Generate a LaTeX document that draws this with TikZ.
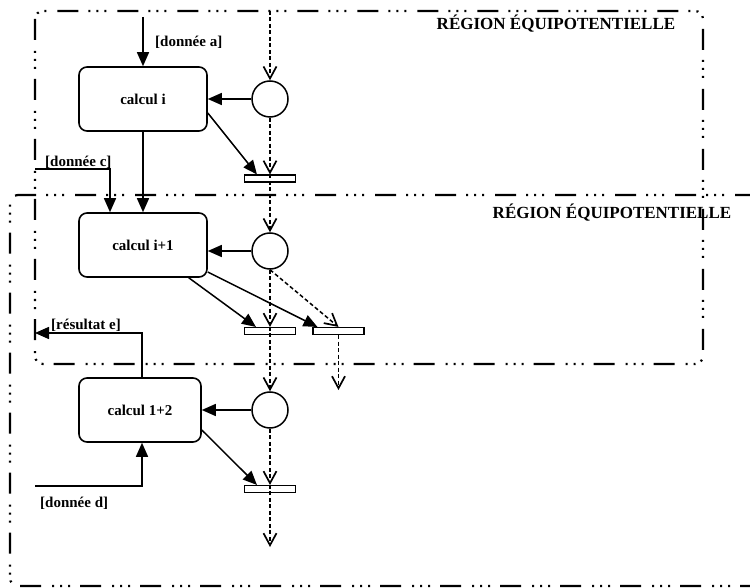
\documentclass[tikz,border=0pt]{standalone}
\usepackage{fontspec}
\setmainfont{Liberation Serif}
\usetikzlibrary{arrows.meta,calc}
\begin{document}
\begin{tikzpicture}[x=1pt,y=-1pt,
  procbox/.style={draw, line width=1.6pt, rounded corners=8pt, minimum width=128pt,
    minimum height=64pt, inner sep=0pt, font=\bfseries\fontsize{15}{17}\selectfont},
  probe/.style={draw, circle, line width=1.5pt, minimum size=36pt, inner sep=0pt},
  syncbar/.style={draw, line width=1.1pt, minimum width=51pt, minimum height=7pt, inner sep=0pt},
  flow/.style={line width=1.5pt, -{Triangle[length=14pt,width=12pt]}},
  ctrl/.style={line width=1.5pt, dash pattern=on 4pt off 2.5pt,
    -{Straight Barb[length=12pt,width=13pt,line width=1.7pt]}},
  zone/.style={line width=2.2pt, rounded corners=8pt,
    dash pattern=on 21pt off 11pt on 2pt off 6pt on 2pt off 6pt on 2pt off 10pt},
  zonetitle/.style={font=\bfseries\fontsize{17}{19}\selectfont, inner sep=0pt},
  tag/.style={inner sep=0pt, anchor=west, font=\bfseries\fontsize{15}{17}\selectfont}
]
\useasboundingbox (0,0) rectangle (750,588);

% equipotential regions
\draw[zone] (35,11) rectangle (703,364);
\draw[zone] (756,195) -- (10,195) -- (10,586) -- (756,586);
\node[zonetitle] (t1) at (556,24) {RÉGION ÉQUIPOTENTIELLE};
\node[zonetitle] (t2) at (612,213) {RÉGION ÉQUIPOTENTIELLE};

% computation steps
\node[procbox] (c1) at (143,99) {calcul i};
\node[procbox] (c2) at (143,245) {calcul i+1};
\node[procbox, minimum width=122pt] (c3) at (140,410) {calcul 1+2};

% clock probes
\node[probe] (p1) at (270,99) {};
\node[probe] (p2) at (270,251) {};
\node[probe] (p3) at (270,410) {};

% synchronisation bars
\node[syncbar] (b1) at (270,178.5) {};
\node[syncbar] (b2) at (270,331) {};
\node[syncbar] (b3) at (338.5,331) {};
\node[syncbar] (b4) at (270,489) {};

% free ends
\coordinate (a0) at (143,17);
\coordinate (cin) at (35,169);
\coordinate (cbend) at (110,169);
\coordinate (eout) at (35,333);
\coordinate (ebend) at (142,333);
\coordinate (din) at (35,486);
\coordinate (dbend) at (142,486);
\coordinate (top) at (270,11);
\coordinate (x2) at (338.5,390);
\coordinate (x3) at (270,547);

% data flows
\draw[flow] (a0) -- (c1.north);
\draw[flow] (c1) -- (c2);
\draw[flow] (cin) -- (cbend) -- (cbend |- c2.north);
\draw[flow] (ebend |- c3.north) -- (ebend) -- (eout);
\draw[flow] (din) -- (dbend) -- (dbend |- c3.south);
\draw[flow] (p1) -- (c1);
\draw[flow] (p2.west) -- (p2.west -| c2.east);
\draw[flow] (p3) -- (c3);
\draw[flow] ($(c1.east)+(0,14)$) -- ($(b1.north west)+(13,0)$);
\draw[flow] ($(c2.south east)+(-19,0)$) -- ($(b2.north west)+(12,0)$);
\draw[flow] ($(c2.east)+(0,27)$) -- ($(b3.north west)+(5,0)$);
\draw[flow] ($(c3.east)+(0,20)$) -- ($(b4.north west)+(13,0)$);

% control flows
\draw[ctrl] (top) -- (p1);
\draw[ctrl] (p1) -- (b1.north);
\draw[ctrl] (b1.north) -- (p2);
\draw[ctrl] (p2) -- (b2.north);
\draw[ctrl] (p2.south) -- (b3.north);
\draw[ctrl] (b2.north) -- (p3);
\draw[ctrl] (b3.south) -- (x2);
\draw[ctrl] (p3) -- (b4.north);
\draw[ctrl] (b4.north) -- (x3);

% flow labels
\node[tag] (la) at (155,42) {[donnée a]};
\node[tag] (lc) at (45,162) {[donnée c]};
\node[tag] (le) at (51,325) {[résultat e]};
\node[tag] (ld) at (40,503) {[donnée d]};
\end{tikzpicture}
\end{document}
